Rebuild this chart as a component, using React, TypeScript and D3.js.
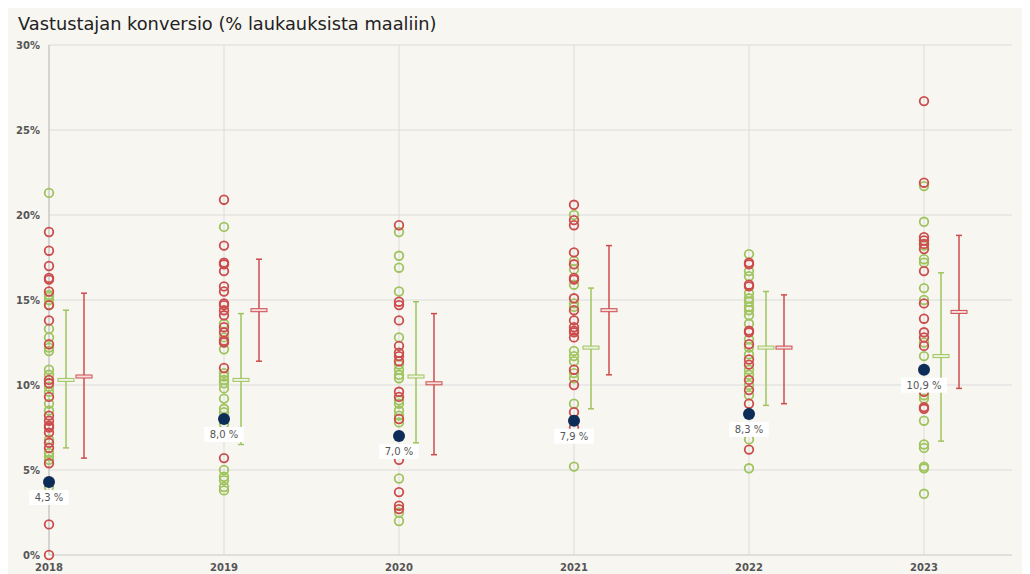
import React from 'react';
import * as d3 from 'd3';

// seasons
const years = ['2018', '2019', '2020', '2021', '2022', '2023'];

// individual team values, green series
const greenPoints: number[][] = [
  [21.3, 15.3, 15.2, 15.0, 14.7, 13.3, 12.8, 12.2, 12.0, 10.9, 10.6, 9.9, 9.6, 8.9, 8.5, 6.8, 6.0, 5.8, 5.6, 4.0],
  [19.3, 13.6, 12.8, 12.1, 10.7, 10.5, 10.3, 10.1, 9.8, 9.2, 8.6, 8.4, 7.7, 5.0, 4.6, 4.4, 4.0, 3.8],
  [19.0, 17.6, 16.9, 15.5, 12.8, 11.2, 10.9, 10.6, 10.4, 9.1, 8.9, 8.5, 8.2, 7.8, 4.5, 2.5, 2.0],
  [20.0, 17.3, 16.8, 15.9, 14.8, 14.6, 12.0, 11.7, 11.4, 10.7, 10.4, 8.9, 5.2],
  [17.7, 16.7, 16.4, 15.4, 15.1, 14.9, 14.6, 14.4, 14.1, 13.6, 12.7, 12.2, 11.8, 10.9, 10.6, 10.0, 9.4, 6.8, 5.1],
  [21.7, 19.6, 18.2, 17.4, 17.2, 15.7, 15.0, 12.5, 11.7, 9.4, 9.2, 7.9, 6.5, 6.3, 5.2, 5.1, 3.6],
];

// individual team values, red series
const redPoints: number[][] = [
  [19.0, 17.9, 17.0, 16.3, 16.2, 15.5, 14.7, 13.8, 12.4, 10.3, 10.1, 9.3, 8.2, 7.9, 7.6, 7.5, 7.2, 6.6, 6.3, 5.4, 1.8, 0],
  [20.9, 18.2, 17.2, 17.1, 16.7, 15.8, 15.5, 14.8, 14.7, 14.4, 14.1, 13.4, 13.1, 12.6, 12.5, 11.0, 5.7],
  [19.4, 14.9, 14.7, 13.8, 12.3, 11.9, 11.7, 11.4, 9.6, 9.3, 8.0, 5.6, 3.7, 2.9, 2.7],
  [20.6, 19.7, 19.4, 17.8, 17.1, 16.3, 16.2, 15.1, 14.4, 13.8, 13.4, 13.2, 13.1, 12.8, 10.9, 10.0, 8.4, 7.5],
  [17.2, 17.1, 15.9, 15.8, 13.2, 13.1, 12.4, 11.5, 11.2, 10.3, 9.7, 8.9, 6.2],
  [26.7, 21.9, 18.7, 18.5, 18.3, 18.0, 16.7, 14.8, 13.9, 13.1, 12.8, 12.3, 9.6, 8.7, 8.6],
];

// green range markers: low, mid, high
const greenLow = [6.3, 6.5, 6.6, 8.6, 8.8, 6.7];
const greenMid = [10.3, 10.3, 10.5, 12.2, 12.2, 11.7];
const greenHigh = [14.4, 14.2, 14.9, 15.7, 15.5, 16.6];

// red range markers
const redLow = [5.7, 11.4, 5.9, 10.6, 8.9, 9.8];
const redMid = [10.5, 14.4, 10.1, 14.4, 12.2, 14.3];
const redHigh = [15.4, 17.4, 14.2, 18.2, 15.3, 18.8];

// highlighted team
const teamValues = [4.3, 8.0, 7.0, 7.9, 8.3, 10.9];
const teamLabels = ['4,3 %', '8,0 %', '7,0 %', '7,9 %', '8,3 %', '10,9 %'];

const yTicks = [0, 5, 10, 15, 20, 25, 30];

const GREEN = '#9fc45e';
const RED = '#cc4c4c';
const NAVY = '#0d2c57';
const font = '"DejaVu Sans", Verdana, sans-serif';

export default function App() {
  const width = 1022;
  const height = 566;
  const left = 41;
  const right = 1004;

  const x = d3.scalePoint().domain(years).range([41, 916]);
  const y = d3.scaleLinear().domain([0, 30]).range([547, 37]);

  const rangeMarker = (i: number, off: number, lo: number, mid: number, hi: number, color: string, fill: string) => {
    const cx = (x(years[i]) as number) + off;
    return (
      <g key={color + i}>
        <line x1={cx} x2={cx} y1={y(hi)} y2={y(lo)} stroke={color} strokeWidth={1.5} />
        <line x1={cx - 3} x2={cx + 3} y1={y(hi)} y2={y(hi)} stroke={color} strokeWidth={1.5} />
        <line x1={cx - 3} x2={cx + 3} y1={y(lo)} y2={y(lo)} stroke={color} strokeWidth={1.5} />
        <rect x={cx - 8} y={y(mid) - 1.5} width={16} height={3} fill={fill} stroke={color} strokeWidth={1} />
      </g>
    );
  };

  return (
    <>
      <style>{'body{overflow:hidden}'}</style>
      <svg width={width} height={height} style={{ display: 'block', background: '#f7f6f1' }}>
        <text x={10} y={22} fontFamily={font} fontSize={17.8} fill="#222">
          Vastustajan konversio (% laukauksista maaliin)
        </text>

        {yTicks.map(t => (
          <g key={t}>
            <line x1={left} x2={right} y1={y(t)} y2={y(t)} stroke={t === 0 ? '#c8c8c8' : '#dcdcdc'} strokeWidth={1} />
            <text x={32} y={y(t) + 3.5} textAnchor="end" fontFamily={font} fontWeight="bold" fontSize={10} fill="#555">
              {t}%
            </text>
          </g>
        ))}

        {years.map((yr, i) => (
          <g key={yr}>
            <line x1={x(yr)} x2={x(yr)} y1={y(30)} y2={y(0)} stroke={i === 0 ? '#c8c8c8' : '#dcdcdc'} strokeWidth={i === 0 ? 1.5 : 1} />
            <text x={x(yr)} y={563} textAnchor="middle" fontFamily={font} fontWeight="bold" fontSize={10} fill="#555">
              {yr}
            </text>
          </g>
        ))}

        {years.map((yr, i) => (
          <g key={'pts' + yr}>
            {greenPoints[i].map((v, j) => (
              <circle key={'g' + j} cx={x(yr)} cy={y(v)} r={4.3} fill="none" stroke={GREEN} strokeWidth={1.8} />
            ))}
            {redPoints[i].map((v, j) => (
              <circle key={'r' + j} cx={x(yr)} cy={y(v)} r={4.3} fill="none" stroke={RED} strokeWidth={1.8} />
            ))}
          </g>
        ))}

        {years.map((yr, i) => rangeMarker(i, 17, greenLow[i], greenMid[i], greenHigh[i], GREEN, '#eef3e2'))}
        {years.map((yr, i) => rangeMarker(i, 35, redLow[i], redMid[i], redHigh[i], RED, '#f6dede'))}

        {years.map((yr, i) => {
          const cx = x(yr) as number;
          const cy = y(teamValues[i]);
          const w = teamLabels[i].length * 6.3 + 8;
          return (
            <g key={'team' + yr}>
              <circle cx={cx} cy={cy} r={6} fill={NAVY} />
              <rect x={cx - w / 2} y={cy + 8} width={w} height={15} fill="#fff" />
              <text x={cx} y={cy + 19} textAnchor="middle" fontFamily={font} fontSize={10} fill="#555">
                {teamLabels[i]}
              </text>
            </g>
          );
        })}
      </svg>
    </>
  );
}
